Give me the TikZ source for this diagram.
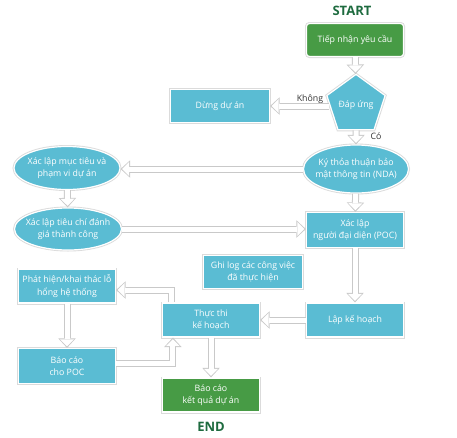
\documentclass[tikz,border=0pt]{standalone}
\usepackage{fontspec}
\setmainfont{Open Sans}
\usetikzlibrary{arrows.meta,shapes.geometric,calc}
\definecolor{cy}{HTML}{5ABCD3}
\definecolor{gr}{HTML}{479B45}
\definecolor{dg}{HTML}{1E6B3F}
\definecolor{ol}{HTML}{C9C9C9}
\tikzset{
  base/.style={fill=cy, draw=white, line width=1.2pt, text=white, align=center,
    font=\fontsize{8.8}{12.5}\selectfont, inner sep=0pt,
    preaction={draw=black!14, line width=3pt}},
  box/.style={base, rectangle, minimum width=97pt, minimum height=33pt},
  gbox/.style={box, fill=gr},
  ell/.style={base, ellipse, inner xsep=-12pt, inner ysep=-4pt},
  pent/.style={base, regular polygon, regular polygon sides=5, minimum size=56pt, inner sep=0pt},
  harrow/.style={draw=white, line width=5pt, shorten >=1.6pt,
    -{Triangle[length=7pt,width=14pt,line width=0pt]},
    preaction={draw=ol, line width=7pt, shorten >=0pt, -{Triangle[length=9.5pt,width=17.5pt,line width=0pt]}}},
  title/.style={font=\bfseries\fontsize{13}{15}\selectfont, text=dg},
  lbl/.style={font=\fontsize{8.8}{10}\selectfont, text=black!80, inner sep=0pt}
}
\begin{document}
\begin{tikzpicture}[x=1pt,y=-1pt]
\useasboundingbox (0,0) rectangle (457,437);
\node[title] (start) at (352,11) {START};
\node[gbox, rounded corners=3pt] (recv) at (355,40) {Tiếp nhận yêu cầu};
\node[pent] (resp) at (356,105) {Đáp ứng};
\node[box, minimum width=99pt] (stop) at (220,106) {Dừng dự án};
\node[ell, minimum width=105pt, minimum height=48pt] (nda) at (356,169) {Ký thỏa thuận bảo\\mật thông tin (NDA)};
\node[ell, minimum width=106pt, minimum height=43pt] (goal) at (67,168) {Xác lập mục tiêu và\\phạm vi dự án};
\node[ell, minimum width=107pt, minimum height=42pt] (crit) at (68,229) {Xác lập tiêu chí đánh\\giá thành công};
\node[box, minimum height=35pt] (poc) at (355,230) {Xác lập\\người đại diện (POC)};
\node[box, minimum width=99pt] (log) at (253,272) {Ghi log các công việc\\đã thực hiện};
\node[box, minimum height=34pt] (plan) at (355,320) {Lập kế hoạch};
\node[box, minimum height=34pt] (exec) at (211,320) {Thực thi\\kế hoạch};
\node[box, minimum height=34pt] (disc) at (67,286) {Phát hiện/khai thác lỗ\\hổng hệ thống};
\node[box, minimum height=35pt] (rep) at (67,366) {Báo cáo\\cho POC};
\node[gbox, minimum height=34pt] (final) at (211,395) {Báo cáo\\kết quả dự án};
\node[title] (end) at (211,427) {END};
\node[lbl] (no) at (310,99) {Không};
\node[lbl] (yes) at (376,136) {Có};
\draw[harrow] (recv) -- (resp);
\draw[harrow] (resp.west |- stop.east) -- (stop.east);
\draw[harrow] (resp) -- (nda);
\draw[harrow] (nda.west) -- (goal.east |- nda.west);
\draw[harrow] (goal) -- (crit);
\draw[harrow] (crit.east) -- (poc.west |- crit.east);
\draw[harrow] (nda) -- (poc);
\draw[harrow] (poc) -- (plan);
\draw[harrow] (plan) -- (exec);
\coordinate (up1) at ($(exec.north west)+(10,0)$);
\draw[harrow] (up1) |- ($(disc.east)+(0,4)$);
\draw[harrow] (disc) -- (rep);
\coordinate (up2) at ($(exec.south west)+(11,0)$);
\draw[harrow] ($(rep.east)+(0,-3)$) -| (up2);
\draw[harrow] (exec) -- (final);
\end{tikzpicture}
\end{document}
